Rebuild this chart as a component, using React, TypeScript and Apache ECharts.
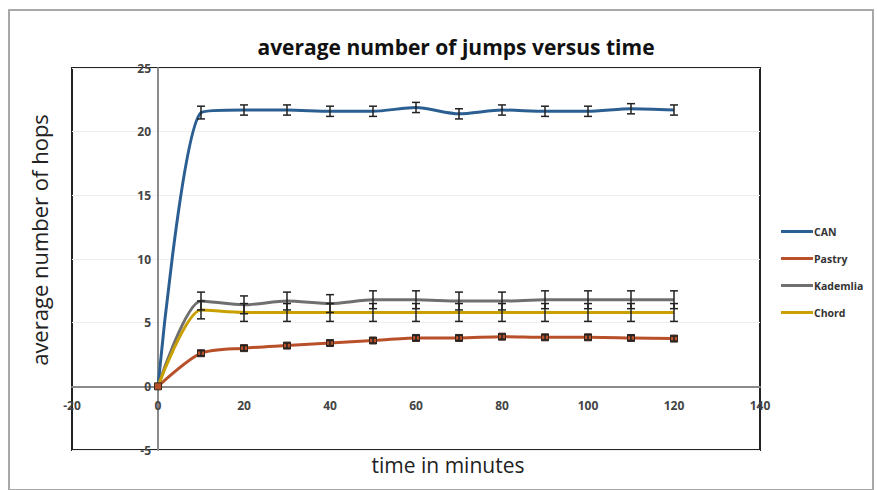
import React, { useEffect, useRef } from "react";
import * as echarts from "echarts";

const times = [0, 10, 20, 30, 40, 50, 60, 70, 80, 90, 100, 110, 120];
const canValues = [0, 21.5, 21.7, 21.7, 21.6, 21.6, 21.9, 21.4, 21.7, 21.6, 21.6, 21.8, 21.7];
const pastryValues = [0, 2.6, 3.0, 3.2, 3.4, 3.6, 3.8, 3.8, 3.9, 3.85, 3.85, 3.8, 3.75];
const kademliaValues = [0, 6.7, 6.4, 6.7, 6.5, 6.8, 6.8, 6.7, 6.7, 6.8, 6.8, 6.8, 6.8];
const chordValues = [0, 6.0, 5.8, 5.8, 5.8, 5.8, 5.8, 5.8, 5.8, 5.8, 5.8, 5.8, 5.8];
const canErr = [0, 0.5, 0.4, 0.4, 0.4, 0.4, 0.4, 0.4, 0.4, 0.4, 0.4, 0.4, 0.4];
const pastryErr = [0, 0.2, 0.2, 0.2, 0.2, 0.2, 0.2, 0.2, 0.2, 0.2, 0.2, 0.2, 0.2];
const kademliaErr = [0, 0.7, 0.7, 0.7, 0.7, 0.7, 0.7, 0.7, 0.7, 0.7, 0.7, 0.7, 0.7];
const chordErr = [0, 0.7, 0.7, 0.7, 0.7, 0.7, 0.7, 0.7, 0.7, 0.7, 0.7, 0.7, 0.7];

const seriesNames = ["CAN", "Pastry", "Kademlia", "Chord"];
const colors = ["#2b5f92", "#b8502a", "#6f6f6f", "#c9a000"];

export default function App() {
  const ref = useRef<HTMLDivElement>(null);
  useEffect(() => {
    document.body.style.margin = "0";
    const chart = echarts.init(ref.current!, null, { renderer: "svg" });
    const values = [canValues, pastryValues, kademliaValues, chordValues];
    const errs = [canErr, pastryErr, kademliaErr, chordErr];
    const font = "'Open Sans', Lato, sans-serif";

    // grid geometry
    const gLeft = 72, gRight = 117, gTop = 68, gBottom = 40;
    const gW = 877 - gLeft - gRight;
    const gH = 490 - gTop - gBottom;
    const xZeroOffset = -(gW * (0 - -20)) / 160; // move y axis to x=0
    const yZeroOffset = -(gH * (0 - -5)) / 30; // move x axis to y=0

    const lineSeries = seriesNames.map((name, i) => ({
      name,
      type: "line",
      smooth: 0.25,
      data: times.map((t, j) => [t, values[i][j]]),
      symbol: i === 1 ? "rect" : "none",
      symbolSize: 7,
      itemStyle: { color: colors[i], borderColor: "#3a2a20", borderWidth: 1 },
      lineStyle: { color: colors[i], width: 3 },
      z: 3,
    }));

    const errSeries = seriesNames.map((name, i) => ({
      name: name + " err",
      type: "custom",
      data: times.slice(1).map((t, j) => [t, values[i][j + 1] - errs[i][j + 1], values[i][j + 1] + errs[i][j + 1]]),
      renderItem: (params: any, api: any) => {
        const x = api.value(0);
        const lo = api.coord([x, api.value(1)]);
        const hi = api.coord([x, api.value(2)]);
        const w = 4;
        const style = { stroke: "#222", lineWidth: 1.5 };
        return {
          type: "group",
          children: [
            { type: "line", shape: { x1: lo[0], y1: lo[1], x2: hi[0], y2: hi[1] }, style },
            { type: "line", shape: { x1: hi[0] - w, y1: hi[1], x2: hi[0] + w, y2: hi[1] }, style },
            { type: "line", shape: { x1: lo[0] - w, y1: lo[1], x2: lo[0] + w, y2: lo[1] }, style },
          ],
        };
      },
      z: 4,
    }));

    chart.setOption({
      animation: false,
      backgroundColor: "#fff",
      title: {
        text: "average number of jumps versus time",
        left: 451,
        textAlign: "center",
        top: 31,
        textStyle: { fontFamily: font, fontWeight: "bold", fontSize: 21, color: "#111" },
      },
      legend: {
        orient: "vertical",
        left: 776,
        top: 221,
        itemGap: 16,
        itemWidth: 32,
        itemHeight: 3,
        data: seriesNames.map((n) => ({ name: n, icon: "rect" })),
        itemStyle: { borderWidth: 0 },
        textStyle: { fontFamily: font, fontSize: 10.5, fontWeight: "bold", color: "#333", padding: [0, 0, 0, -4] },
      },
      graphic: [
        {
          type: "rect",
          shape: { x: 9, y: 10, width: 864, height: 480 },
          style: { fill: "none", stroke: "#a8a8a8", lineWidth: 2 },
        },
      ],
      grid: {
        left: gLeft,
        right: gRight,
        top: gTop,
        bottom: gBottom,
        outerBoundsMode: "none",
        containLabel: false,
        show: true,
        borderColor: "#222",
        borderWidth: 2,
      },
      xAxis: {
        type: "value",
        min: -20,
        max: 140,
        interval: 20,
        offset: yZeroOffset,
        name: "time in minutes",
        nameLocation: "middle",
        nameGap: 68,
        nameTextStyle: { fontFamily: font, fontSize: 21, color: "#222", padding: [0, 0, 0, 64] },
        axisLine: { onZero: false, lineStyle: { color: "#8a8a8a", width: 2 } },
        axisTick: { show: false },
        axisLabel: { fontFamily: font, fontSize: 12, fontWeight: "bold", color: "#444", margin: 13 },
        splitLine: { show: false },
      },
      yAxis: {
        type: "value",
        min: -5,
        max: 25,
        interval: 5,
        offset: xZeroOffset,
        name: "average number of hops",
        nameLocation: "middle",
        nameGap: 108,
        nameTextStyle: { fontFamily: font, fontSize: 22, color: "#222", padding: [0, 0, 0, 38] },
        axisLine: { onZero: false, lineStyle: { color: "#8a8a8a", width: 2 } },
        axisTick: { show: false },
        axisLabel: { fontFamily: font, fontSize: 12, fontWeight: "bold", color: "#444", margin: 7 },
        splitLine: { show: true, lineStyle: { color: "#efefef", width: 1 } },
      },
      series: [...lineSeries, ...errSeries],
    });
    return () => chart.dispose();
  }, []);
  return <div ref={ref} style={{ width: 877, height: 490 }} />;
}
